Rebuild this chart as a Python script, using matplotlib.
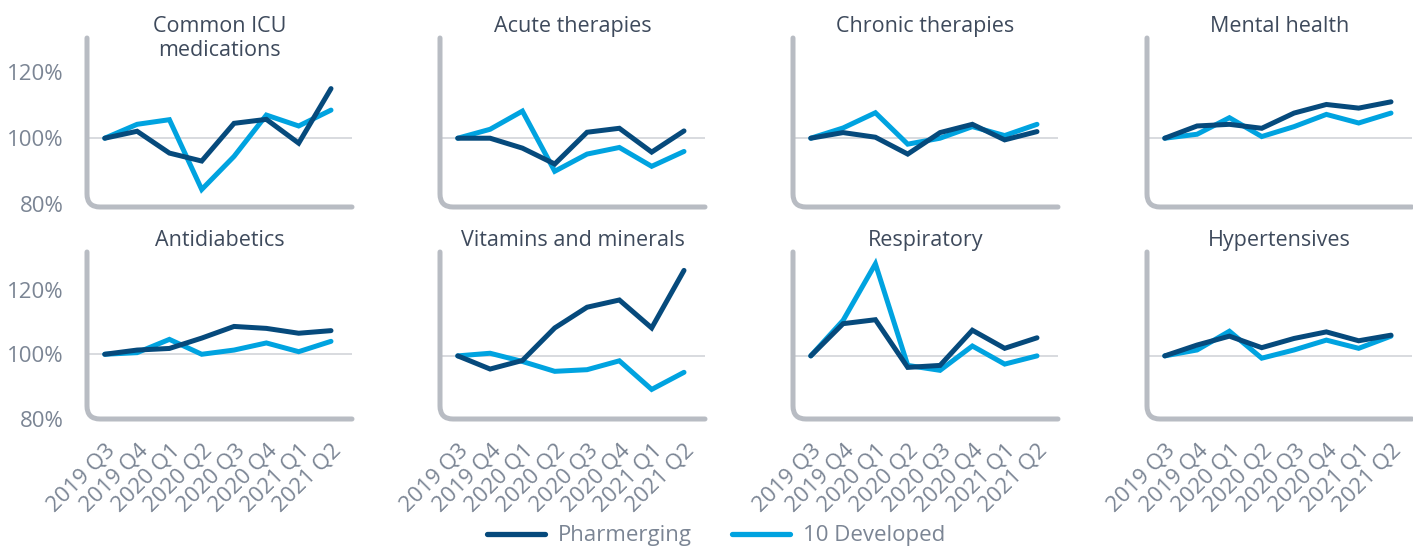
import matplotlib
matplotlib.use("Agg")
import matplotlib.pyplot as plt
from matplotlib.path import Path
from matplotlib.patches import PathPatch
from matplotlib.lines import Line2D

plt.rcParams['font.family'] = ['Open Sans', 'DejaVu Sans']

quarters = ["2019 Q3", "2019 Q4", "2020 Q1", "2020 Q2", "2020 Q3", "2020 Q4", "2021 Q1", "2021 Q2"]

titles = ["Common ICU\nmedications", "Acute therapies", "Chronic therapies", "Mental health",
          "Antidiabetics", "Vitamins and minerals", "Respiratory", "Hypertensives"]

# index, 2019 Q3 = 100%
pharmerging = [
    [100, 102.1, 95.5, 93.1, 104.5, 105.7, 98.5, 115.0],
    [100, 100.0, 97.0, 92.2, 101.8, 103.0, 95.8, 102.2],
    [100, 101.7, 100.3, 95.2, 101.7, 104.2, 99.5, 102.0],
    [100, 103.7, 104.2, 103.0, 107.6, 110.2, 109.1, 111.0],
    [100, 101.3, 101.8, 105.0, 108.6, 108.0, 106.5, 107.3],
    [100, 96.0, 98.6, 108.5, 114.8, 117.0, 108.5, 126.0],
    [100, 109.8, 111.0, 96.5, 97.1, 107.8, 102.3, 105.5],
    [100, 103.3, 106.0, 102.5, 105.3, 107.3, 104.6, 106.3],
]
developed = [
    [100, 104.2, 105.6, 84.5, 94.5, 107.0, 103.7, 108.5],
    [100, 102.7, 108.2, 90.0, 95.2, 97.2, 91.5, 96.0],
    [100, 103.1, 107.7, 98.2, 100.0, 103.5, 100.8, 104.2],
    [100, 101.2, 106.2, 100.5, 103.5, 107.2, 104.6, 107.6],
    [100, 100.5, 104.6, 100.0, 101.3, 103.5, 100.8, 104.0],
    [100, 100.8, 98.3, 95.3, 95.8, 98.5, 89.8, 95.0],
    [100, 110.8, 128.0, 97.1, 95.6, 103.0, 97.5, 100.0],
    [100, 101.8, 107.5, 99.3, 101.8, 104.8, 102.3, 106.0],
]
yticks = [80, 100, 120]

DARK = "#064a7c"
LIGHT = "#00a3e0"
FRAME = "#b8bcc3"
GRID = "#d5d8dc"
TICK = "#7b8594"
TITLE = "#3e4a5c"

W, H = 1413, 546
fig = plt.figure(figsize=(W / 100, H / 100), dpi=100)

lefts = [87, 440, 793, 1147]
rows = [(38, 207, (79.2, 130.3)), (252, 419, (80.8, 131.6))]
pw = 265

def rounded_frame(ax, w_px, h_px, r=13):
    rx, ry = r / w_px, r / h_px
    verts = [(0, 1), (0, ry), (0, 0), (rx, 0), (1, 0)]
    codes = [Path.MOVETO, Path.LINETO, Path.CURVE3, Path.CURVE3, Path.LINETO]
    p = PathPatch(Path(verts, codes), transform=ax.transAxes, fill=False,
                  edgecolor=FRAME, lw=3.6, capstyle='round', clip_on=False, zorder=1)
    ax.add_patch(p)

for i in range(8):
    r, c = divmod(i, 4)
    top, bot, ylim = rows[r]
    h = bot - top
    ax = fig.add_axes([lefts[c] / W, 1 - bot / H, pw / W, h / H])
    ax.set_xlim(-0.55, 7.65)
    ax.set_ylim(*ylim)
    for s in ax.spines.values():
        s.set_visible(False)
    ax.axhline(100, color=GRID, lw=1.3, zorder=1)
    x = range(len(quarters))
    ax.plot(x, developed[i], color=LIGHT, lw=3.6, solid_capstyle='round', solid_joinstyle='miter', zorder=3)
    ax.plot(x, pharmerging[i], color=DARK, lw=3.6, solid_capstyle='round', solid_joinstyle='miter', zorder=4)
    rounded_frame(ax, pw, h)
    ax.text(0.5, 1 + 22 / h, titles[i], transform=ax.transAxes, ha='center', va='top',
            fontsize=15.5, color=TITLE, linespacing=1.2)
    ax.tick_params(length=0)
    if c == 0:
        ax.set_yticks(yticks)
        ax.set_yticklabels([f"{v}%" for v in yticks], fontsize=16, color=TICK)
        ax.tick_params(axis='y', pad=17)
    else:
        ax.set_yticks([])
    if r == 1:
        ax.set_xticks(list(x))
        ax.set_xticklabels(quarters, rotation=45, ha='right', rotation_mode='anchor',
                           fontsize=16, color=TICK)
        ax.tick_params(axis='x', pad=15)
    else:
        ax.set_xticks([])

handles = [Line2D([], [], color=DARK, lw=3.8, solid_capstyle='round'),
           Line2D([], [], color=LIGHT, lw=3.8, solid_capstyle='round')]
leg = fig.legend(handles, ["Pharmerging", "10 Developed"], loc='center', ncol=2,
                 bbox_to_anchor=(716 / W, 1 - 536 / H), frameon=False, fontsize=16,
                 handlelength=2.6, handletextpad=0.6, columnspacing=1.8, borderpad=0)
for t in leg.get_texts():
    t.set_color(TICK)

fig.savefig("out.png", dpi=100)
